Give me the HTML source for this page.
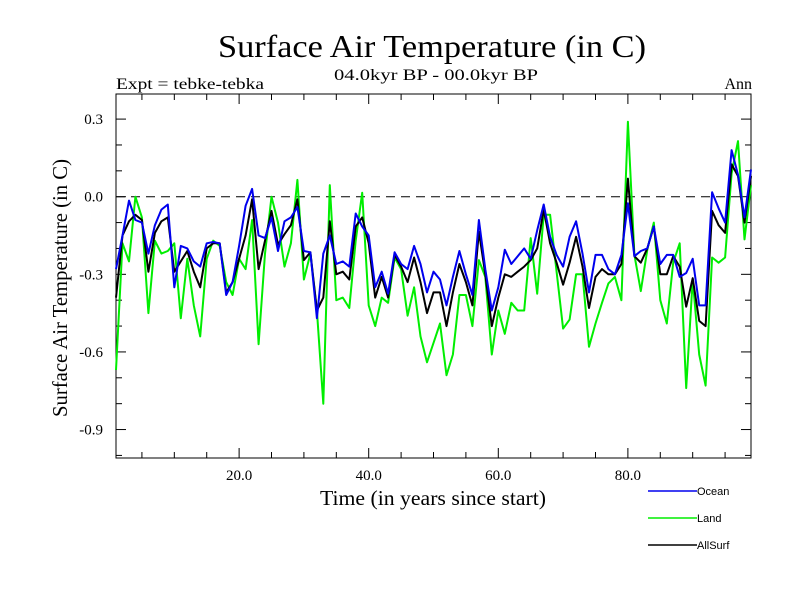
<!DOCTYPE html>
<html><head><meta charset="utf-8"><style>body{margin:0;background:#fff}svg{display:block}text{font-family:"Liberation Serif",serif;fill:#000}</style></head>
<body>
<svg id="chart" width="800" height="600" viewBox="0 0 800 600" xmlns="http://www.w3.org/2000/svg">
<text x="432" y="57" font-size="32" text-anchor="middle" textLength="428" lengthAdjust="spacingAndGlyphs">Surface Air Temperature (in C)</text>
<text x="436" y="80" font-size="16" text-anchor="middle" textLength="204" lengthAdjust="spacingAndGlyphs">04.0kyr BP - 00.0kyr BP</text>
<text x="116" y="89" font-size="16" textLength="148" lengthAdjust="spacingAndGlyphs">Expt = tebke-tebka</text>
<text x="752" y="89" font-size="16" text-anchor="end">Ann</text>
<text transform="translate(67,288) rotate(-90)" font-size="21" text-anchor="middle" textLength="258" lengthAdjust="spacingAndGlyphs">Surface Air Temperature (in C)</text>
<text x="433" y="505" font-size="21" text-anchor="middle" textLength="226" lengthAdjust="spacingAndGlyphs">Time (in years since start)</text>
<g id="axes"></g>
<g id="series"></g>
<g id="legend"></g>
</svg>
<script>
const years = Array.from({length: 99}, (_, i) => i + 1);
const ocean = [-0.28,-0.15,-0.015,-0.09,-0.10,-0.22,-0.11,-0.05,-0.03,-0.35,
-0.19,-0.2,-0.25,-0.27,-0.18,-0.175,-0.18,-0.38,-0.33,-0.19,
-0.035,0.03,-0.15,-0.16,-0.08,-0.21,-0.095,-0.08,-0.04,-0.21,
-0.215,-0.47,-0.22,-0.15,-0.26,-0.25,-0.27,-0.065,-0.115,-0.15,
-0.35,-0.29,-0.375,-0.215,-0.26,-0.28,-0.19,-0.26,-0.37,-0.29,
-0.32,-0.42,-0.31,-0.21,-0.30,-0.38,-0.09,-0.28,-0.44,-0.35,
-0.205,-0.26,-0.23,-0.2,-0.24,-0.13,-0.03,-0.155,-0.225,-0.27,
-0.155,-0.095,-0.22,-0.37,-0.225,-0.225,-0.28,-0.3,-0.225,-0.025,
-0.23,-0.21,-0.2,-0.115,-0.26,-0.225,-0.225,-0.31,-0.295,-0.24,
-0.42,-0.42,0.017,-0.045,-0.1,0.18,0.085,-0.08,0.105];
const allsurf = [-0.39,-0.15,-0.095,-0.07,-0.09,-0.29,-0.14,-0.095,-0.08,-0.29,
-0.25,-0.21,-0.29,-0.35,-0.2,-0.18,-0.18,-0.37,-0.33,-0.24,
-0.15,-0.01,-0.28,-0.17,-0.055,-0.185,-0.145,-0.11,-0.01,-0.245,
-0.215,-0.44,-0.39,-0.095,-0.3,-0.29,-0.32,-0.115,-0.08,-0.18,
-0.39,-0.31,-0.39,-0.225,-0.27,-0.33,-0.235,-0.33,-0.45,-0.37,
-0.37,-0.5,-0.37,-0.26,-0.33,-0.42,-0.135,-0.3,-0.5,-0.39,
-0.3,-0.31,-0.29,-0.27,-0.245,-0.2,-0.05,-0.18,-0.255,-0.34,
-0.255,-0.155,-0.27,-0.43,-0.31,-0.28,-0.3,-0.3,-0.26,0.07,
-0.23,-0.255,-0.2,-0.115,-0.3,-0.3,-0.23,-0.27,-0.425,-0.315,
-0.48,-0.5,-0.055,-0.11,-0.14,0.125,0.08,-0.1,0.08];
const land = [-0.67,-0.18,-0.25,0.0,-0.08,-0.45,-0.17,-0.22,-0.21,-0.18,
-0.47,-0.24,-0.42,-0.54,-0.24,-0.17,-0.19,-0.33,-0.38,-0.24,
-0.28,-0.09,-0.57,-0.22,0.0,-0.1,-0.27,-0.18,0.065,-0.32,
-0.22,-0.44,-0.8,0.045,-0.4,-0.39,-0.43,-0.17,0.015,-0.42,
-0.5,-0.39,-0.41,-0.235,-0.28,-0.46,-0.35,-0.54,-0.64,-0.565,
-0.49,-0.69,-0.61,-0.38,-0.38,-0.5,-0.245,-0.31,-0.61,-0.44,
-0.53,-0.41,-0.44,-0.44,-0.16,-0.375,-0.07,-0.07,-0.29,-0.51,
-0.475,-0.3,-0.3,-0.58,-0.49,-0.41,-0.335,-0.31,-0.4,0.29,
-0.225,-0.365,-0.205,-0.1,-0.4,-0.49,-0.255,-0.18,-0.74,-0.32,
-0.61,-0.73,-0.235,-0.255,-0.235,0.09,0.215,-0.165,0.045];
const yTicks = [0.3, 0.0, -0.3, -0.6, -0.9];
const yTickLabels = ["0.3", "0.0", "-0.3", "-0.6", "-0.9"];
const xTicks = [20, 40, 60, 80];
const xTickLabels = ["20.0", "40.0", "60.0", "80.0"];

const NS = "http://www.w3.org/2000/svg";
const L = 116, R = 751, T = 94, B = 458;
const xMin = 1, xMax = 99, yMin = -1.01, yMax = 0.397;
function sx(v) { return L + (v - xMin) / (xMax - xMin) * (R - L); }
function sy(v) { return B - (v - yMin) / (yMax - yMin) * (B - T); }
function mk(tag, attrs, parent) {
  const e = document.createElementNS(NS, tag);
  for (const k in attrs) e.setAttribute(k, attrs[k]);
  parent.appendChild(e);
  return e;
}
const axes = document.getElementById('axes');
const frame = mk('rect', {x: L, y: T, width: R - L, height: B - T, fill: 'none', stroke: '#000', 'stroke-width': 1}, axes);


const zl = mk('line', {x1: L, x2: R, y1: sy(0), y2: sy(0), stroke: '#000', 'stroke-dasharray': '9,6', 'stroke-width': 1}, axes);


for (let k = -10; k <= 3; k++) {
  const vv = k / 10;
  const major = Math.abs(k % 3) === 0;
  const len = major ? 10 : 6;
  const y = sy(vv);
  const t1 = mk('line', {x1: L, x2: L + len, y1: y, y2: y, stroke: '#000'}, axes);
  
  
  const t2 = mk('line', {x1: R - len, x2: R, y1: y, y2: y, stroke: '#000'}, axes);
  
  
}
yTicks.forEach((v, i) => {
  const t = mk('text', {x: 103, y: sy(v) + 5, 'font-size': 15, 'text-anchor': 'end'}, axes);
  t.textContent = yTickLabels[i];
  
  
});
for (let v = 5; v <= 95; v += 5) {
  const major = v % 20 === 0;
  const len = major ? 10 : 6;
  const x = sx(v);
  const t1 = mk('line', {x1: x, x2: x, y1: B, y2: B - len, stroke: '#000'}, axes);
  
  
  const t2 = mk('line', {x1: x, x2: x, y1: T, y2: T + len, stroke: '#000'}, axes);
  
  
}
xTicks.forEach((v, i) => {
  const t = mk('text', {x: sx(v), y: 480, 'font-size': 15, 'text-anchor': 'middle'}, axes);
  t.textContent = xTickLabels[i];
  
  
});
const series = document.getElementById('series');
function drawLine(vals, color, name) {
  const pts = vals.map((v, i) => sx(years[i]).toFixed(1) + ',' + sy(v).toFixed(1)).join(' ');
  const p = mk('polyline', {points: pts, fill: 'none', stroke: color, 'stroke-width': 2, 'stroke-linejoin': 'round'}, series);
  
  
}
drawLine(land, '#00ee00', 'land-line');
drawLine(allsurf, '#000000', 'allsurf-line');
drawLine(ocean, '#0000ee', 'ocean-line');
const legend = document.getElementById('legend');
[['Ocean', '#0000ee', 491], ['Land', '#00ee00', 518], ['AllSurf', '#000000', 545]].forEach(e => {
  const l = mk('line', {x1: 648, x2: 697, y1: e[2], y2: e[2], stroke: e[1], 'stroke-width': 1.5}, legend);
  
  
  const t = mk('text', {x: 697, y: e[2] + 4, 'font-size': 11, style: 'font-family:"Liberation Sans",sans-serif'}, legend);
  t.textContent = e[0];
  
  
});
</script>
</body></html>
